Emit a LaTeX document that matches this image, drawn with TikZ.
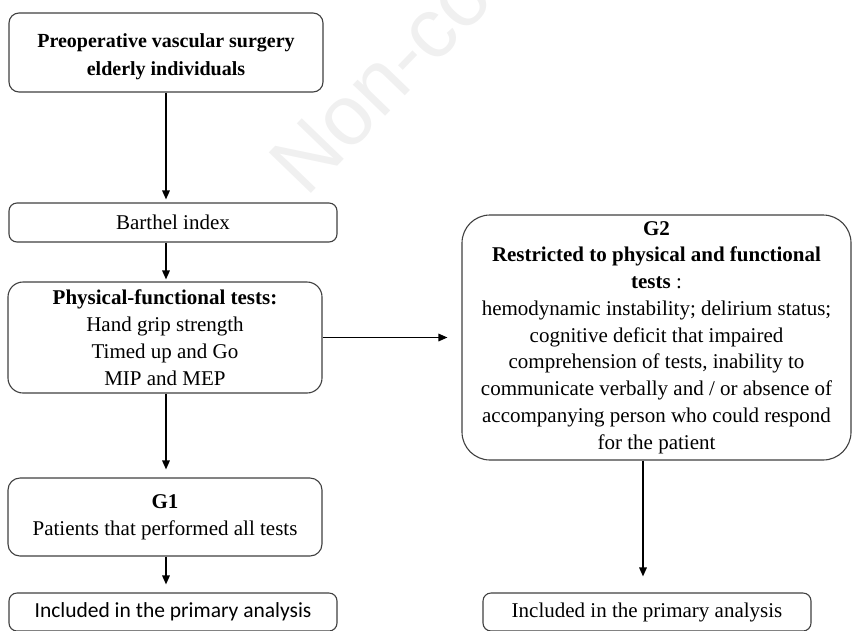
\documentclass[tikz,border=0pt]{standalone}
\usepackage{fontspec}
\setmainfont{Liberation Serif}
\newfontfamily\calibrifont{Carlito}
\newfontfamily\markfont{Liberation Sans}
\usetikzlibrary{arrows.meta}

\begin{document}
\begin{tikzpicture}[x=1pt, y=-1pt, font=\fontsize{21}{27}\selectfont,
	box/.style={draw=black!75, line width=1.1pt, fill=white, align=center, inner sep=0pt},
	arr/.style={line width=1.6pt, -{Triangle[length=9pt,width=7.5pt]}}]
	\useasboundingbox (0,0) rectangle (853,630);
	\clip (0,0) rectangle (853,630);
	%watermark
	\node[anchor=base west, rotate=46, inner sep=0pt, text=black!6, font=\markfont\fontsize{85}{85}\selectfont] (mark) at (306,199) {Non-commercial};
	\node[box, rounded corners=10pt, minimum width=314pt, minimum height=79pt, font=\fontsize{20}{28}\selectfont\bfseries] (pre) at (166,52.5) {\rule{0pt}{22pt}Preoperative vascular surgery\\ elderly individuals};
	\node[box, rounded corners=8pt, minimum width=328pt, minimum height=39pt] (bar) at (173,222.5) {Barthel index};
	\node[box, rounded corners=15pt, minimum width=314pt, minimum height=111pt] (phys) at (165,337.5) {\textbf{Physical-functional tests:}\\ Hand grip strength\\ Timed up and Go\\ MIP and MEP};
	\node[box, rounded corners=12pt, minimum width=314pt, minimum height=78pt] (g1) at (165,517) {\textbf{G1}\\ Patients that performed all tests};
	\node[box, rounded corners=8pt, minimum width=328pt, minimum height=38pt, font=\calibrifont\fontsize{21.5}{27}\selectfont] (incl) at (173,612) {Included in the primary analysis};
	\node[box, rounded corners=28pt, minimum width=389pt, minimum height=245pt, font=\fontsize{21}{26.75}\selectfont] (g2) at (656.5,337.5) {\textbf{G2}\\ \textbf{Restricted to physical and functional}\\ \textbf{tests} :\\ hemodynamic instability; delirium status;\\ cognitive deficit that impaired\\ comprehension of tests, inability to\\ communicate verbally and / or absence of\\ accompanying person who could respond\\ for the patient};
	\node[box, rounded corners=8pt, minimum width=328pt, minimum height=38pt] (incr) at (647,612) {Included in the primary analysis};
	%arrows
	\draw[arr, shorten >=3pt] (pre.south) -- (pre.south |- bar.north);
	\draw[arr, shorten >=2pt] (pre.south |- bar.south) -- (pre.south |- phys.north);
	\draw[arr, shorten >=8pt] (pre.south |- phys.south) -- (pre.south |- g1.north);
	\draw[arr, shorten >=8pt] (pre.south |- g1.south) -- (pre.south |- incl.north);
	\draw[arr, shorten >=14pt] (phys.east) -- (g2.west);
	\draw[arr, shorten >=16pt] ([xshift=-4pt]incr.north |- g2.south) -- ([xshift=-4pt]incr.north);
\end{tikzpicture}
\end{document}
